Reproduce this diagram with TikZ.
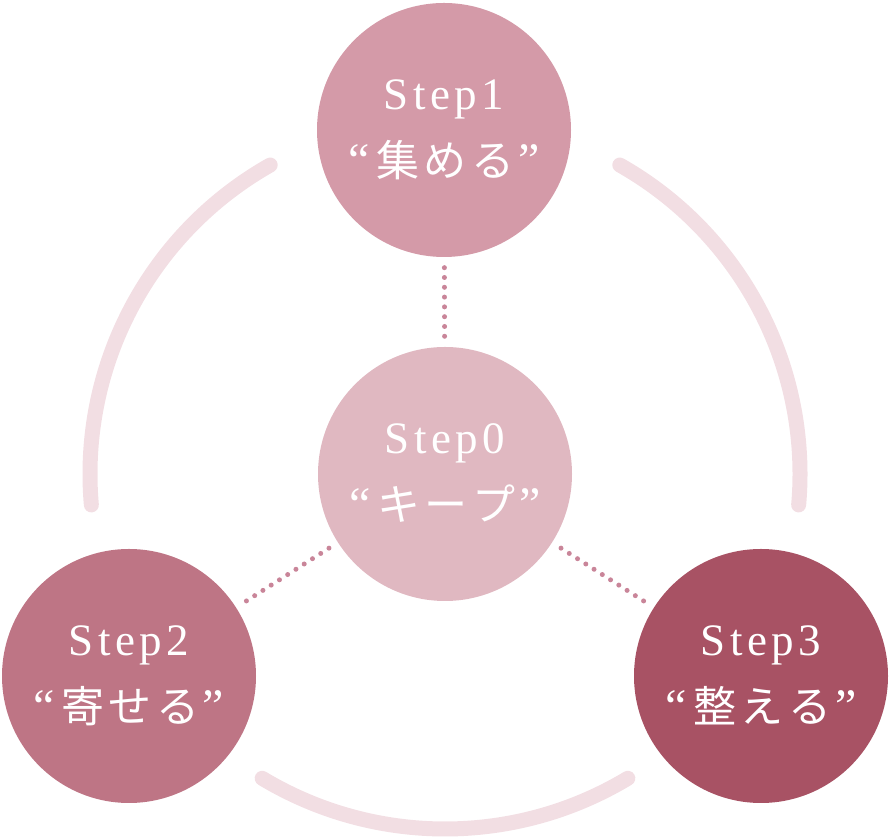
\documentclass[tikz,border=0pt]{standalone}
\usepackage{fontspec}
\setmainfont{Liberation Serif}
\newfontfamily\cjkfont{Noto Sans CJK JP}
\definecolor{stepzero}{HTML}{E0B8C1}
\definecolor{stepone}{HTML}{D49AA8}
\definecolor{steptwo}{HTML}{BE7585}
\definecolor{stepthree}{HTML}{A85264}
\definecolor{ringpink}{HTML}{F2DEE3}
\definecolor{dotpink}{HTML}{C98599}
\tikzset{
  stepdisc/.style={circle, inner sep=0pt, minimum size=254pt},
  titletext/.style={anchor=base, text=white, inner sep=0pt, font=\fontsize{45}{45}\selectfont},
  wordtext/.style={anchor=base, text=white, inner sep=0pt, font=\fontsize{48}{48}\selectfont},
  dotline/.style={draw=dotpink, line width=5pt, line cap=round, dash pattern=on 0pt off 9.8pt, shorten <=10.5pt, shorten >=10.5pt},
  ringarc/.style={draw=ringpink, line width=15pt, line cap=round}
}
\newcommand{\steptitle}[1]{S\hspace{4.5pt}t\hspace{4.5pt}e\hspace{4.5pt}p\hspace{4.5pt}#1}
\newcommand{\stepword}[3]{“\hspace{6pt}{\cjkfont\fontsize{43}{43}\selectfont #1\hspace{5pt}#2\hspace{5pt}#3}\hspace{3pt}”}
\begin{document}
\begin{tikzpicture}[x=1pt, y=1pt]
\useasboundingbox (0,0) rectangle (892,840);
% ring pieces
\coordinate (ring) at (445,366);
\draw[ringarc] ([shift={(119.5:355pt)}]ring) arc[start angle=119.5, end angle=185, radius=355pt];
\draw[ringarc] ([shift={(-5:355pt)}]ring) arc[start angle=-5, end angle=60.5, radius=355pt];
\draw[ringarc] ([shift={(239:355pt)}]ring) arc[start angle=239, end angle=301, radius=355pt];
% steps
\node[stepdisc, fill=stepzero] (s0) at (445,366) {};
\node[stepdisc, fill=stepone] (s1) at (444,710) {};
\node[stepdisc, fill=steptwo] (s2) at (129,164) {};
\node[stepdisc, fill=stepthree] (s3) at (761,164) {};
% dotted links
\draw[dotline] (s1) -- (s0);
\draw[dotline] (s0) -- (s2);
\draw[dotline] (s0) -- (s3);
% labels
\foreach \n/\a/\b/\c in {0/キ/ー/プ, 1/集/め/る, 2/寄/せ/る, 3/整/え/る} {
  \node[titletext] (t\n) at ([yshift=20pt]s\n.center) {\steptitle{\n}};
  \node[wordtext] (w\n) at ([yshift=-47pt]s\n.center) {\stepword{\a}{\b}{\c}};
}
\end{tikzpicture}
\end{document}
